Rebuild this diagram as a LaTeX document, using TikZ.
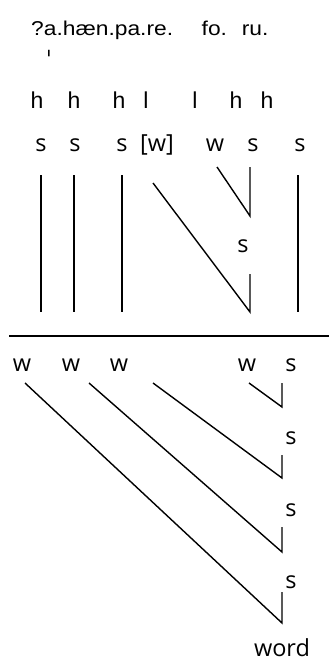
\documentclass[tikz,border=0pt]{standalone}
\usepackage{fontspec}
\setmainfont{Liberation Sans}
\newfontfamily\osans{Open Sans}
\newfontfamily\djv{DejaVu Sans}
\begin{document}
\begin{tikzpicture}[x=1pt,y=-1pt,
  toptext/.style={font=\fontsize{20}{24}\selectfont, inner sep=0pt, anchor=base west, xscale=1.14, transform shape},
  tone/.style={font=\fontsize{23}{27}\selectfont, inner sep=0pt, anchor=base},
  met/.style={font=\osans\fontsize{23.5}{27}\selectfont, inner sep=0pt, anchor=base},
  ln/.style={line width=1.4pt, line cap=butt}]
\useasboundingbox[fill=white] (0,0) rectangle (329,661);

% segmental line
\node[toptext] (seg) at (31,36) {?a.hæn.pa.re.\hspace*{25pt}fo.\hspace*{13pt}ru.};
\node[font=\djv\fontsize{24}{28}\selectfont, inner sep=0pt] (stress) at (49,59) {\symbol{"02C8}};

% tone row
\node[tone] (h1) at (37,108) {h};
\node[tone] (h2) at (74,108) {h};
\node[tone] (h3) at (119,108) {h};
\node[tone] (l1) at (146,108) {l};
\node[tone] (l2) at (195,108) {l};
\node[tone] (h4) at (236,108) {h};
\node[tone] (h5) at (267,108) {h};

% upper metrical row
\node[met] (s1) at (41,151) {s};
\node[met] (s2) at (75,151) {s};
\node[met] (s3) at (122,151) {s};
\node[met] (w1) at (157,151) {[w]};
\node[met] (w2) at (215,151) {w};
\node[met] (s4) at (253,151) {s};
\node[met] (s5) at (300,151) {s};
\node[met] (s6) at (243,252) {s};

% upper lines
\coordinate (a1t) at (41,175);  \coordinate (a1b) at (41,312);
\coordinate (a2t) at (74,175);  \coordinate (a2b) at (74,312);
\coordinate (a3t) at (122,175); \coordinate (a3b) at (122,312);
\coordinate (a4t) at (298,175); \coordinate (a4b) at (298,312);
\coordinate (dwt) at (153,183); \coordinate (dwb) at (250,312);
\coordinate (vst) at (250,274);
\coordinate (swt) at (217,167); \coordinate (swb) at (250,216);
\coordinate (sst) at (250,167);
\draw[ln] (a1t) -- (a1b);
\draw[ln] (a2t) -- (a2b);
\draw[ln] (a3t) -- (a3b);
\draw[ln] (a4t) -- (a4b);
\draw[ln] (dwt) -- (dwb) -- (vst);
\draw[ln] (swt) -- (swb) -- (sst);

% divider
\coordinate (hl) at (9,336); \coordinate (hr) at (329,336);
\draw[ln] (hl) -- (hr);

% lower metrical row
\node[met] (lw1) at (22,371) {w};
\node[met] (lw2) at (71,371) {w};
\node[met] (lw3) at (119,371) {w};
\node[met] (lw4) at (247,371) {w};
\node[met] (ls1) at (291,371) {s};
\node[met] (ls2) at (291,444) {s};
\node[met] (ls3) at (291,516) {s};
\node[met] (ls4) at (291,588) {s};
\node[met] (word) at (282,656) {word};

% lower lines
\coordinate (b1t) at (25,383);  \coordinate (b1b) at (282,623); \coordinate (b1v) at (282,592);
\coordinate (b2t) at (89,383);  \coordinate (b2b) at (282,552); \coordinate (b2v) at (282,527);
\coordinate (b3t) at (153,383); \coordinate (b3b) at (282,478); \coordinate (b3v) at (282,455);
\coordinate (b4t) at (249,383); \coordinate (b4b) at (282,407); \coordinate (b4v) at (282,383);
\draw[ln] (b1t) -- (b1b) -- (b1v);
\draw[ln] (b2t) -- (b2b) -- (b2v);
\draw[ln] (b3t) -- (b3b) -- (b3v);
\draw[ln] (b4t) -- (b4b) -- (b4v);
\end{tikzpicture}
\end{document}
